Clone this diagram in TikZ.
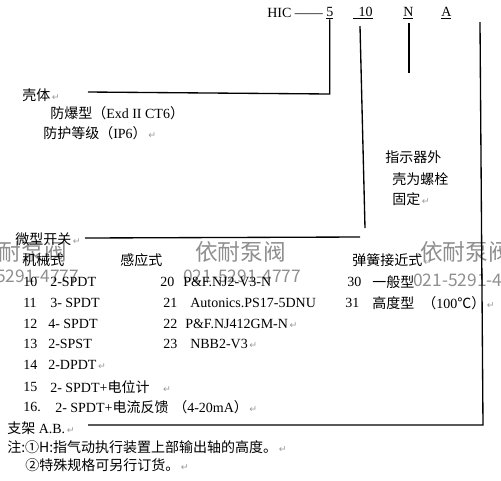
\documentclass[tikz,border=0pt]{standalone}
\usepackage{fontspec}
\setmainfont{Liberation Serif}
\newfontfamily\cjk{Noto Sans CJK SC}
\newfontfamily\dvs{DejaVu Sans}
\definecolor{wmgray}{gray}{0.56}
\definecolor{retgray}{gray}{0.6}
\newcommand{\ret}{{\dvs\fontsize{7}{8}\selectfont\color{retgray}\,↵}}
\begin{document}
\begin{tikzpicture}[x=0.75pt,y=-0.75pt,
  txt/.style={anchor=west,inner sep=0pt,font=\fontsize{10.5}{12}\selectfont},
  wm/.style={anchor=west,inner sep=0pt,text=wmgray,font=\cjk\fontsize{17}{20}\selectfont},
  wmn/.style={anchor=west,inner sep=0pt,text=wmgray,font=\cjk\fontsize{13}{15}\selectfont},
  conn/.style={line width=1pt}]
\useasboundingbox (0,0) rectangle (501,480);
% watermarks
\node[wm] (wmL) at (-24,252) {依耐泵阀};
\node[wm] (wmM) at (195,252) {依耐泵阀};
\node[wm] (wmR) at (420,252) {依耐泵阀};
\node[wmn] (telL) at (-39,276) {021-5291-4777};
\node[wmn] (telM) at (183,276) {021-5291-4777};
\node[wmn] (telR) at (413,280) {021-5291-4777};
% model code
\node[txt] (hic) at (267,13) {HIC ——};
\node[txt] (five) at (326,13) {\underline{5}};
\node[txt] (ten) at (353,13) {\underline{\hspace{4pt}10}};
\node[txt] (nn) at (403,13) {\underline{N}};
\node[txt] (aa) at (441,13) {\underline{A}};
% connectors
\coordinate (k5) at (five.south |- 0,94);
\coordinate (shellend) at (88,92);
\draw[conn] (five.south) -- (k5) -- (shellend);
\coordinate (t10) at (360,26);
\coordinate (b10) at (365,228);
\draw[conn] (t10) -- (b10);
\coordinate (sw1) at (360,237);
\coordinate (sw0) at (85,238);
\draw[conn] (sw1) -- (sw0);
\coordinate (tN) at (409,23);
\coordinate (bN) at (409,73);
\draw[conn] (tN) -- (bN);
\coordinate (tA) at (480,22);
\coordinate (bA) at (483,425);
\coordinate (eA) at (88,425);
\draw[conn] (tA) -- (bA) -- (eA);
% shell
\node[txt] (shell) at (22,95) {{\cjk 壳体}\ret};
\node[txt] (exd) at (50,113) {{\cjk 防爆型（}Exd II CT6{\cjk ）}};
\node[txt] (ip) at (43,133) {{\cjk 防护等级（}IP6{\cjk ）}\ret};
% indicator
\node[txt] (ind1) at (385,157) {\cjk 指示器外};
\node[txt] (ind2) at (392,179) {\cjk 壳为螺栓};
\node[txt] (ind3) at (392,199) {{\cjk 固定}\ret};
% micro switch
\node[txt] (micro) at (15,239) {{\cjk 微型开关}\ret};
\node[txt] (mech) at (22,260) {\cjk 机械式};
\node[txt] (induct) at (120,260) {\cjk 感应式};
\node[txt] (spring) at (352,260) {{\cjk 弹簧接近式}\ret};
% rows
\node[txt] (n10) at (23,282) {10};
\node[txt] (i10) at (50,282) {2-SPDT};
\node[txt] (n20) at (160,282) {20};
\node[txt] (i20) at (183,282) {P\&F.NJ2-V3-N};
\node[txt] (n30) at (347,282) {30};
\node[txt] (i30) at (372,282) {\cjk 一般型};
\node[txt] (n11) at (23,303) {11};
\node[txt] (i11) at (50,303) {3- SPDT};
\node[txt] (n21) at (163,303) {21};
\node[txt] (i21) at (190,303) {Autonics.PS17-5DNU};
\node[txt] (n31) at (345,303) {31};
\node[txt] (i31) at (372,303) {\cjk 高度型};
\node[txt] (i31b) at (422,303) {{\cjk （}100{\cjk ℃）}\ret};
\node[txt] (n12) at (23,324) {12};
\node[txt] (i12) at (48,324) {4- SPDT};
\node[txt] (n22) at (163,324) {22};
\node[txt] (i22) at (185,324) {P\&F.NJ412GM-N\ret};
\node[txt] (n13) at (23,344) {13};
\node[txt] (i13) at (48,344) {2-SPST};
\node[txt] (n23) at (163,344) {23};
\node[txt] (i23) at (190,344) {NBB2-V3\ret};
\node[txt] (n14) at (23,365) {14};
\node[txt] (i14) at (48,365) {2-DPDT\ret};
\node[txt] (n15) at (23,387) {15};
\node[txt] (i15) at (50,387) {2- SPDT+{\cjk 电位计}\hspace{9pt}\ret};
\node[txt] (n16) at (23,407) {16.};
\node[txt] (i16) at (55,407) {2- SPDT+{\cjk 电流反馈}};
\node[txt] (i16b) at (173,407) {{\cjk （}4-20mA{\cjk ）}\ret};
% bracket and notes
\node[txt] (bracket) at (7,428) {{\cjk 支架} A.B.\ret};
\node[txt] (note1) at (7,447) {{\cjk 注:①H:指气动执行装置上部输出轴的高度。}\ret};
\node[txt] (note2) at (25,465) {{\cjk ②特殊规格可另行订货。}\ret};
\end{tikzpicture}
\end{document}
